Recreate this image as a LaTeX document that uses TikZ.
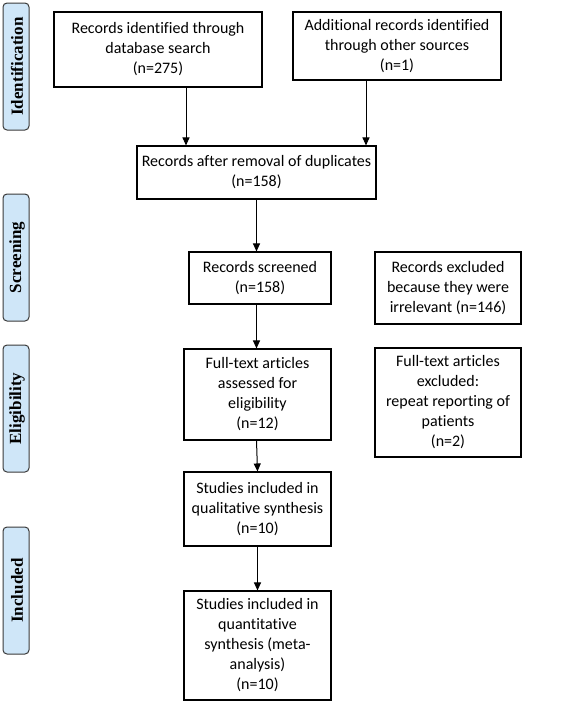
\documentclass[tikz,border=0pt]{standalone}
\usepackage{fontspec}
\setmainfont{Carlito}[Ligatures=NoCommon]
\newfontfamily\tabfont{Liberation Serif}
\usetikzlibrary{arrows.meta}
\definecolor{tabblue}{HTML}{CFE6F8}
\definecolor{tabedge}{HTML}{3A3A3A}

\begin{document}
\begin{tikzpicture}[x=1pt, y=-1pt,
  box/.style={draw, line width=1.1pt, align=center, inner sep=0pt,
    font=\fontsize{16}{20}\selectfont},
  phase/.style={draw=tabedge, fill=tabblue, line width=1pt, rounded corners=4pt,
    minimum width=26pt, minimum height=127pt, inner sep=0pt},
  >={Triangle[width=7pt,length=8pt]}]
\useasboundingbox (0,0) rectangle (567,702);
% phase tabs
\foreach \y/\name in {66.5/Identification, 257.5/Screening, 408.5/Eligibility, 590.5/Included} {
 \node[phase] at (16,\y) {};
 \node[rotate=90, font=\tabfont\bfseries\fontsize{17}{20}\selectfont] at (17,\y) {\name};
}
% boxes
\node[box, minimum width=208pt, minimum height=75pt] (db) at (158,49.5)
  {Records identified through\\database search\\(n=275)};
\node[box, minimum width=208pt, minimum height=68pt] (other) at (397,46)
  {Additional records identified\\through other sources\\(n=1)};
\node[box, minimum width=239pt, minimum height=53pt] (dup) at (256.5,172.5)
  {Records after removal of duplicates\\(n=158)};
\node[box, minimum width=142pt, minimum height=52pt] (scr) at (260,278)
  {Records screened\\(n=158)};
\node[box, minimum width=146pt, minimum height=72pt] (excl) at (448,288)
  {Records excluded\\because they were\\irrelevant (n=146)};
\node[box, minimum width=147pt, minimum height=91pt] (full) at (257.5,394.5)
  {Full-text articles\\assessed for\\eligibility\\(n=12)};
\node[box, minimum width=146pt, minimum height=109pt] (fexcl) at (448,402.5)
  {Full-text articles\\excluded:\\repeat reporting of\\patients\\(n=2)};
\node[box, minimum width=147pt, minimum height=74pt] (qual) at (257.5,509)
  {Studies included in\\qualitative synthesis\\(n=10)};
\node[box, minimum width=147pt, minimum height=109pt] (quant) at (257.5,645.5)
  {Studies included in\\quantitative\\synthesis (meta-\\analysis)\\(n=10)};
% arrows
\coordinate (da) at (186,87);
\coordinate (oa) at (366,80);
\draw[->, line width=1pt] (da) -- (da |- dup.north);
\draw[->, line width=1pt] (oa) -- (oa |- dup.north);
\draw[->, line width=1pt] (dup.south) -- (dup.south |- scr.north);
\draw[->, line width=1pt] (dup.south |- scr.south) -- (dup.south |- full.north);
\draw[->, line width=1pt] (dup.south |- full.south) -- (qual.north);
\draw[->, line width=1pt] (qual.south) -- (quant.north);
\end{tikzpicture}
\end{document}
